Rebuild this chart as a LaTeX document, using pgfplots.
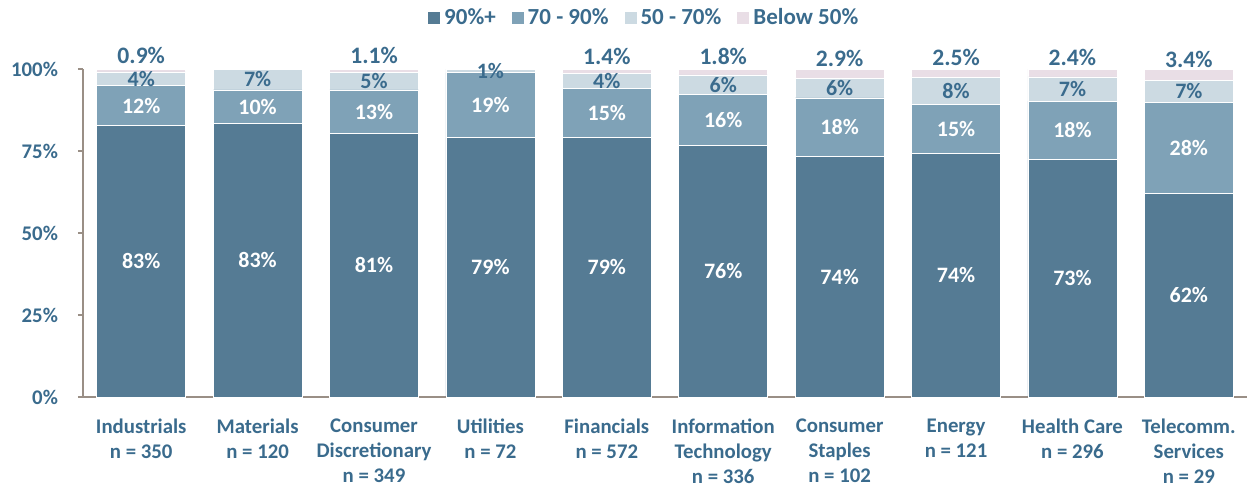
\documentclass[border=0pt]{standalone}
\usepackage{fontspec}
\setmainfont{Carlito}
\usepackage{pgfplots}
\usepackage{pgfplotstable}
\pgfplotsset{compat=1.18}
\definecolor{cA}{HTML}{557B94}
\definecolor{cB}{HTML}{7FA2B7}
\definecolor{cC}{HTML}{CCDAE2}
\definecolor{cD}{HTML}{E9DEE6}
\definecolor{txt}{HTML}{3A6B8D}
\definecolor{axc}{HTML}{9A8F86}
\newcommand\tfnt{\bfseries\fontsize{10.4}{12.5}\selectfont}
\newcommand\lfnt{\bfseries\fontsize{11.5}{13}\selectfont}
\newcommand\bfnt{\bfseries\fontsize{11}{13}\selectfont}
\newcommand\topf{\bfseries\fontsize{11.8}{14}\selectfont}
\pgfplotstableread{
x a b c d la lb lc ld
0 82.7 12.3 4.1 0.9 83\% 12\% 4\% 0.9\%
1 83.3 10.3 6.4 0.0 83\% 10\% 7\% {}
2 80.4 13.2 5.3 1.1 81\% 13\% 5\% 1.1\%
3 79.1 19.8 1.1 0.0 79\% 19\% 1\% {}
4 79.1 15.0 4.5 1.4 79\% 15\% 4\% 1.4\%
5 76.6 15.6 6.0 1.8 76\% 16\% 6\% 1.8\%
6 73.3 17.9 5.9 2.9 74\% 18\% 6\% 2.9\%
7 74.3 15.0 8.2 2.5 74\% 15\% 8\% 2.5\%
8 72.4 17.8 7.4 2.4 73\% 18\% 7\% 2.4\%
9 62.0 27.8 6.8 3.4 62\% 28\% 7\% 3.4\%
}\datatable
\pgfplotsset{common/.style={scale only axis, width=582pt, height=164pt,
  xmin=-0.5, xmax=9.5, ymin=0, ymax=100, clip=false}}
\begin{document}
\begin{tikzpicture}
\begin{axis}[common,
  ybar stacked, bar width=44.5pt,
  axis x line*=bottom, axis y line*=left,
  axis line style={axc, line width=0.8pt},
  xtick={0,...,9},
  xticklabels={{Industrials\\n = 350},{Materials\\n = 120},{Consumer\\Discretionary\\n = 349},{Utilities\\n = 72},{Financials\\n = 572},{Information\\Technology\\n = 336},{Consumer\\Staples\\n = 102},{Energy\\n = 121},{Health Care\\n = 296},{Telecomm.\\Services\\n = 29}},
  x tick style={draw=none},
  ytick={0,25,50,75,100},
  yticklabel={\pgfmathprintnumber{\tick}\%},
  /pgf/number format/assume math mode=true,
  tick align=outside, major tick length=2.5pt,
  y tick style={axc, line width=0.8pt},
  yticklabel style={font=\tfnt, text=txt, xshift=-6.5pt},
  xticklabel style={font=\tfnt, text=txt, align=center, yshift=-5pt},
  legend style={at={(rel axis cs:0.483,1.155)}, anchor=center, draw=none, fill=none, legend columns=4, font=\lfnt, text=txt,
    /tikz/every even column/.append style={column sep=6pt}},
  legend image code/.code={\path[#1,draw=none] (0pt,-3pt) rectangle (6pt,3pt);},
]
\path (rel axis cs:-0.0713,-0.2744) rectangle (rel axis cs:1.0017,1.2104);
\addplot[fill=cA, draw=white, line width=0.3pt] table[x=x, y=a] {\datatable};
\addplot[fill=cB, draw=white, line width=0.3pt] table[x=x, y=b] {\datatable};
\addplot[fill=cC, draw=white, line width=0.3pt] table[x=x, y=c] {\datatable};
\addplot[fill=cD, draw=white, line width=0.3pt,
  nodes near coords, point meta=explicit symbolic,
  every node near coord/.append style={anchor=south, text=txt, font=\topf}]
  table[x=x, y=d, meta=ld] {\datatable};
\legend{90\%+, 70 - 90\%, 50 - 70\%, Below 50\%}
\end{axis}
\begin{axis}[common, hide axis,
  nodes near coords, point meta=explicit symbolic,
  every node near coord/.append style={anchor=center, inner sep=0pt}]
\addplot[draw=none, mark=none, every node near coord/.append style={text=white, font=\bfnt}]
  table[x=x, y expr=\thisrow{a}/2, meta=la] {\datatable};
\addplot[draw=none, mark=none, every node near coord/.append style={text=white, font=\bfnt}]
  table[x=x, y expr=\thisrow{a}+\thisrow{b}/2, meta=lb] {\datatable};
\addplot[draw=none, mark=none, every node near coord/.append style={text=txt, font=\bfnt}]
  table[x=x, y expr=\thisrow{a}+\thisrow{b}+\thisrow{c}/2, meta=lc] {\datatable};
\end{axis}
\end{tikzpicture}
\end{document}
